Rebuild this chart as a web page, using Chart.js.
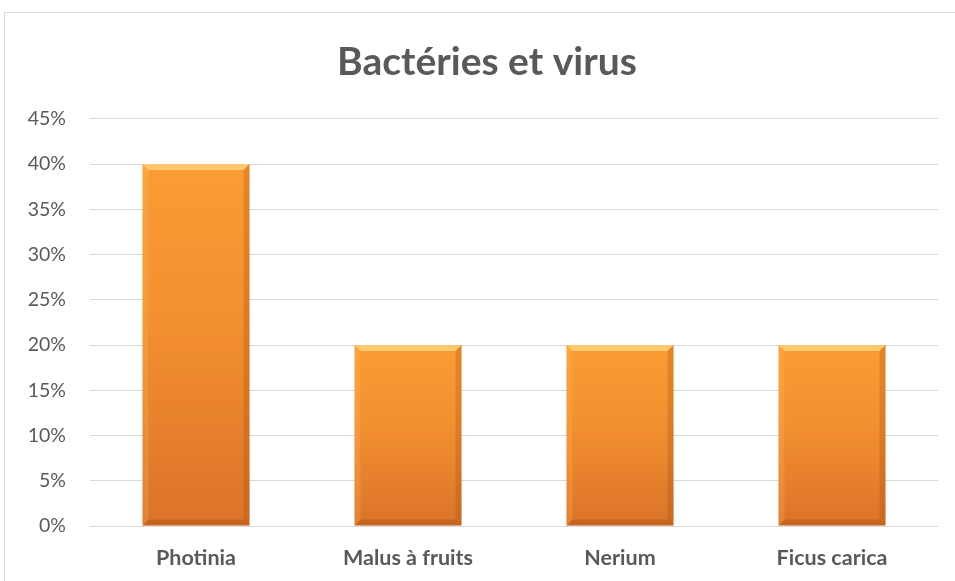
<!DOCTYPE html>
<html>
<head>
<meta charset="utf-8">
<script src="https://cdn.jsdelivr.net/npm/chart.js@4/dist/chart.umd.min.js"></script>
<style>
  html, body { margin: 0; padding: 0; background: #fff; overflow: hidden; width: 955px; height: 581px; }
  #frame { position: absolute; left: 4px; top: 12px; width: 1000px; height: 700px; border: 1.5px solid #d9d9d9; box-sizing: border-box; }
  #wrap { position: absolute; left: 0; top: 0; width: 955px; height: 581px; }
</style>
</head>
<body>
<div id="frame"></div>
<div id="wrap"><canvas id="c" width="955" height="581"></canvas></div>
<script>
const title = 'Bactéries et virus';
const categories = ['Photinia', 'Malus à fruits', 'Nerium', 'Ficus carica'];
const values = [40, 20, 20, 20];
const yTicks = [0, 5, 10, 15, 20, 25, 30, 35, 40, 45];

const FONT = "Lato, 'Open Sans', 'Noto Sans', sans-serif";

function barFill(ctx) {
  const chart = ctx.chart;
  const area = chart.chartArea;
  if (!area || ctx.parsed === undefined) return '#F39130';
  const y = chart.scales.y;
  const top = y.getPixelForValue(ctx.parsed.y);
  const bottom = y.getPixelForValue(0);
  const g = chart.ctx.createLinearGradient(0, top, 0, bottom);
  g.addColorStop(0, '#FB9C33');
  g.addColorStop(0.45, '#F28F30');
  g.addColorStop(1, '#DB7329');
  return g;
}

const bevel = {
  id: 'bevel',
  afterDatasetsDraw(chart) {
    const c = chart.ctx;
    const meta = chart.getDatasetMeta(0);
    meta.data.forEach(bar => {
      const l = bar.x - bar.width / 2, r = bar.x + bar.width / 2;
      const t = bar.y, b = bar.base;
      const e = 6;
      c.save();
      c.fillStyle = 'rgba(255,230,150,0.6)';
      c.beginPath(); c.moveTo(l, t); c.lineTo(r, t); c.lineTo(r - e, t + e); c.lineTo(l + e, t + e); c.closePath(); c.fill();
      c.fillStyle = 'rgba(150,70,10,0.25)';
      c.beginPath(); c.moveTo(r, t); c.lineTo(r, b); c.lineTo(r - e, b - e); c.lineTo(r - e, t + e); c.closePath(); c.fill();
      c.fillStyle = 'rgba(140,60,10,0.28)';
      c.beginPath(); c.moveTo(l, b); c.lineTo(r, b); c.lineTo(r - e, b - e); c.lineTo(l + e, b - e); c.closePath(); c.fill();
      c.fillStyle = 'rgba(255,200,120,0.2)';
      c.beginPath(); c.moveTo(l, t); c.lineTo(l, b); c.lineTo(l + e, b - e); c.lineTo(l + e, t + e); c.closePath(); c.fill();
      c.restore();
    });
  }
};

// centre the title over the wider original frame
const titleShift = {
  id: 'titleShift',
  afterLayout(chart) {
    if (chart.titleBlock) chart.titleBlock.left += 36;
  }
};

new Chart(document.getElementById('c'), {
  type: 'bar',
  data: {
    labels: categories,
    datasets: [{
      data: values,
      backgroundColor: barFill,
      borderWidth: 0,
      categoryPercentage: 1,
      barPercentage: 0.505
    }]
  },
  options: {
    responsive: false,
    animation: false,
    layout: { padding: { left: 0, right: 17, top: 0, bottom: 0 } },
    plugins: {
      legend: { display: false },
      tooltip: { enabled: false },
      title: {
        display: true,
        text: title,
        color: '#595959',
        font: { family: FONT, size: 39, weight: 'bold' },
        padding: { top: 39, bottom: 33 }
      }
    },
    scales: {
      x: {
        grid: { display: false, drawTicks: false },
        border: { display: false },
        ticks: {
          color: '#595959',
          font: { family: FONT, size: 21.5, weight: 'bold' },
          padding: 19
        },
        afterFit(s) { s.height = 55; }
      },
      y: {
        min: 0,
        max: 45,
        afterBuildTicks(s) { s.ticks = yTicks.map(v => ({ value: v })); },
        grid: { color: '#d9d9d9', lineWidth: 1, drawTicks: false },
        border: { display: false },
        ticks: {
          color: '#595959',
          font: { family: FONT, size: 19.5 },
          padding: 24,
          callback: v => v + '%'
        },
        afterFit(s) { s.width = 90; }
      }
    }
  },
  plugins: [bevel, titleShift]
});
</script>
</body>
</html>
